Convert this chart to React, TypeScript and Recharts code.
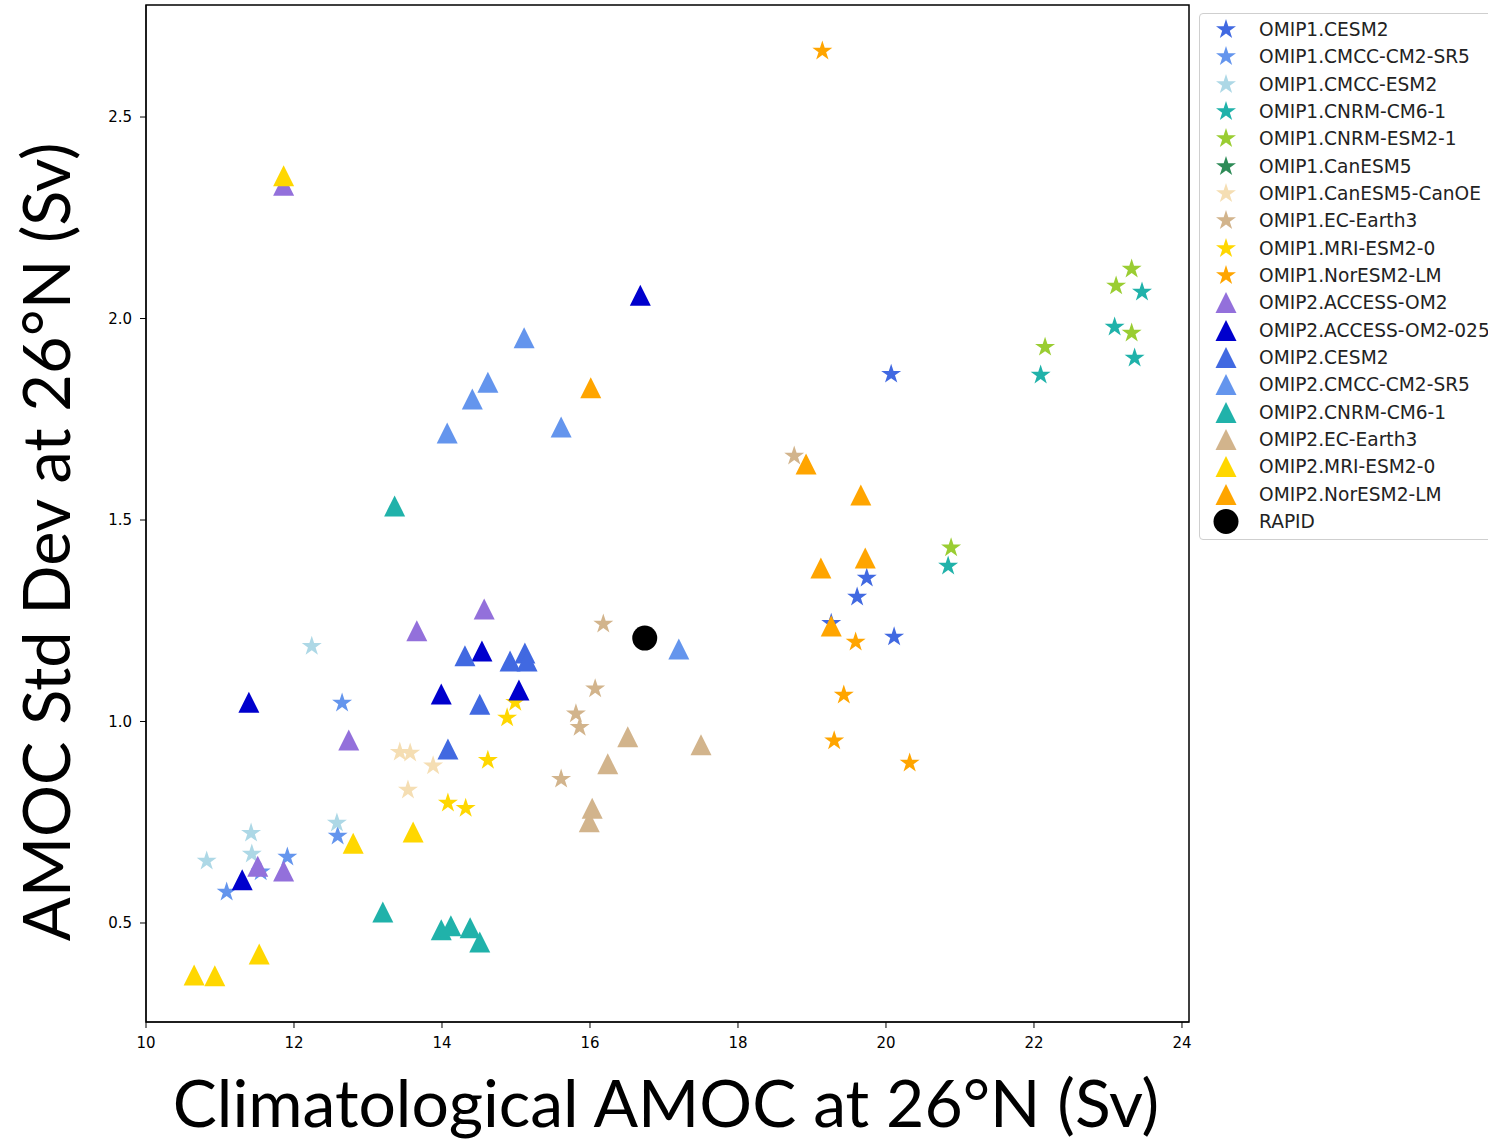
import React from "react";
import { ScatterChart, Scatter, XAxis, YAxis, ReferenceArea } from "recharts";

// axis ticks
const xTicks = [10, 12, 14, 16, 18, 20, 22, 24];
const yTicks = [0.5, 1.0, 1.5, 2.0, 2.5];

// OMIP1 (stars)
const omip1Cesm2 = [
  { x: 20.07, y: 1.862 }, { x: 19.74, y: 1.356 }, { x: 19.61, y: 1.309 },
  { x: 20.11, y: 1.21 }, { x: 19.26, y: 1.244 },
];
const omip1CmccCm2 = [
  { x: 12.65, y: 1.046 }, { x: 12.59, y: 0.716 }, { x: 11.91, y: 0.664 },
  { x: 11.09, y: 0.577 }, { x: 11.55, y: 0.627 },
];
const omip1CmccEsm2 = [
  { x: 12.24, y: 1.187 }, { x: 11.42, y: 0.723 }, { x: 10.82, y: 0.654 },
  { x: 11.43, y: 0.671 }, { x: 12.58, y: 0.748 },
];
const omip1CnrmCm6 = [
  { x: 23.46, y: 2.066 }, { x: 23.09, y: 1.979 }, { x: 23.36, y: 1.902 },
  { x: 22.09, y: 1.86 }, { x: 20.84, y: 1.386 },
];
const omip1CnrmEsm2 = [
  { x: 23.32, y: 2.123 }, { x: 23.11, y: 2.081 }, { x: 23.32, y: 1.964 },
  { x: 22.15, y: 1.929 }, { x: 20.88, y: 1.431 },
];
const omip1CanEsm5: { x: number; y: number }[] = [];
const omip1CanOe = [
  { x: 13.43, y: 0.924 }, { x: 13.57, y: 0.922 }, { x: 13.88, y: 0.89 },
  { x: 13.54, y: 0.83 },
];
const omip1EcEarth = [
  { x: 18.76, y: 1.659 }, { x: 16.18, y: 1.242 }, { x: 16.07, y: 1.081 },
  { x: 15.81, y: 1.019 }, { x: 15.86, y: 0.986 }, { x: 15.61, y: 0.857 },
];
const omip1Mri = [
  { x: 14.99, y: 1.048 }, { x: 14.88, y: 1.009 }, { x: 14.62, y: 0.904 },
  { x: 14.08, y: 0.798 }, { x: 14.32, y: 0.785 },
];
const omip1NorEsm = [
  { x: 19.14, y: 2.664 }, { x: 19.59, y: 1.197 }, { x: 19.43, y: 1.066 },
  { x: 19.3, y: 0.952 }, { x: 20.32, y: 0.897 },
];

// OMIP2 (triangles)
const omip2Access = [
  { x: 11.86, y: 2.331 }, { x: 14.57, y: 1.279 }, { x: 13.66, y: 1.225 },
  { x: 12.74, y: 0.954 }, { x: 11.51, y: 0.641 }, { x: 11.86, y: 0.629 },
];
const omip2Access025 = [
  { x: 16.68, y: 2.058 }, { x: 14.54, y: 1.175 }, { x: 13.99, y: 1.068 },
  { x: 15.04, y: 1.078 }, { x: 11.39, y: 1.048 }, { x: 11.3, y: 0.607 },
];
const omip2Cesm2 = [
  { x: 14.31, y: 1.163 }, { x: 14.92, y: 1.15 }, { x: 15.12, y: 1.17 },
  { x: 15.15, y: 1.15 }, { x: 14.51, y: 1.043 }, { x: 14.08, y: 0.932 },
];
const omip2CmccCm2 = [
  { x: 15.11, y: 1.952 }, { x: 14.62, y: 1.842 }, { x: 14.41, y: 1.8 },
  { x: 14.07, y: 1.716 }, { x: 15.61, y: 1.731 }, { x: 17.2, y: 1.18 },
];
const omip2CnrmCm6 = [
  { x: 13.36, y: 1.535 }, { x: 13.2, y: 0.527 }, { x: 13.99, y: 0.483 },
  { x: 14.12, y: 0.493 }, { x: 14.38, y: 0.488 }, { x: 14.51, y: 0.453 },
];
const omip2EcEarth = [
  { x: 16.51, y: 0.962 }, { x: 17.5, y: 0.942 }, { x: 16.24, y: 0.895 },
  { x: 16.03, y: 0.785 }, { x: 15.99, y: 0.751 },
];
const omip2Mri = [
  { x: 11.86, y: 2.354 }, { x: 13.61, y: 0.726 }, { x: 12.8, y: 0.698 },
  { x: 11.53, y: 0.423 }, { x: 10.65, y: 0.371 }, { x: 10.93, y: 0.369 },
];
const omip2NorEsm = [
  { x: 16.01, y: 1.828 }, { x: 18.92, y: 1.639 }, { x: 19.66, y: 1.562 },
  { x: 19.72, y: 1.406 }, { x: 19.12, y: 1.381 }, { x: 19.26, y: 1.237 },
];

// observations
const rapid = [{ x: 16.74, y: 1.207 }];

type Marker = "star" | "triangle" | "circle";

const series: { name: string; color: string; marker: Marker; data: { x: number; y: number }[] }[] = [
  { name: "OMIP1.CESM2", color: "#4169E1", marker: "star", data: omip1Cesm2 },
  { name: "OMIP1.CMCC-CM2-SR5", color: "#6495ED", marker: "star", data: omip1CmccCm2 },
  { name: "OMIP1.CMCC-ESM2", color: "#ADD8E6", marker: "star", data: omip1CmccEsm2 },
  { name: "OMIP1.CNRM-CM6-1", color: "#20B2AA", marker: "star", data: omip1CnrmCm6 },
  { name: "OMIP1.CNRM-ESM2-1", color: "#9ACD32", marker: "star", data: omip1CnrmEsm2 },
  { name: "OMIP1.CanESM5", color: "#2E8B57", marker: "star", data: omip1CanEsm5 },
  { name: "OMIP1.CanESM5-CanOE", color: "#F5DEB3", marker: "star", data: omip1CanOe },
  { name: "OMIP1.EC-Earth3", color: "#D2B48C", marker: "star", data: omip1EcEarth },
  { name: "OMIP1.MRI-ESM2-0", color: "#FFD700", marker: "star", data: omip1Mri },
  { name: "OMIP1.NorESM2-LM", color: "#FFA500", marker: "star", data: omip1NorEsm },
  { name: "OMIP2.ACCESS-OM2", color: "#9370DB", marker: "triangle", data: omip2Access },
  { name: "OMIP2.ACCESS-OM2-025", color: "#0000CD", marker: "triangle", data: omip2Access025 },
  { name: "OMIP2.CESM2", color: "#4169E1", marker: "triangle", data: omip2Cesm2 },
  { name: "OMIP2.CMCC-CM2-SR5", color: "#6495ED", marker: "triangle", data: omip2CmccCm2 },
  { name: "OMIP2.CNRM-CM6-1", color: "#20B2AA", marker: "triangle", data: omip2CnrmCm6 },
  { name: "OMIP2.EC-Earth3", color: "#D2B48C", marker: "triangle", data: omip2EcEarth },
  { name: "OMIP2.MRI-ESM2-0", color: "#FFD700", marker: "triangle", data: omip2Mri },
  { name: "OMIP2.NorESM2-LM", color: "#FFA500", marker: "triangle", data: omip2NorEsm },
  { name: "RAPID", color: "#000000", marker: "circle", data: rapid },
];

const starPoints = (cx: number, cy: number, R: number) => {
  const r = R * 0.382;
  const pts: string[] = [];
  for (let i = 0; i < 10; i++) {
    const a = -Math.PI / 2 + (i * Math.PI) / 5;
    const rad = i % 2 === 0 ? R : r;
    pts.push(`${cx + rad * Math.cos(a)},${cy + rad * Math.sin(a)}`);
  }
  return pts.join(" ");
};

const MarkerShape = ({ cx, cy, marker, color }: { cx: number; cy: number; marker: Marker; color: string }) => {
  if (marker === "star") return <polygon points={starPoints(cx, cy, 10.5)} fill={color} />;
  if (marker === "triangle") {
    const s = 10.5;
    return <polygon points={`${cx},${cy - s} ${cx - s},${cy + s} ${cx + s},${cy + s}`} fill={color} />;
  }
  return <circle cx={cx} cy={cy} r={12.5} fill={color} />;
};

const FONT = "'DejaVu Sans', sans-serif";
const LABEL_FONT = "Lato, sans-serif";

const ChartLegend = () => (
  <div
    style={{
      position: "absolute",
      left: 1199,
      top: 13,
      width: 310,
      height: 527,
      border: "1px solid #cfcfcf",
      borderRadius: 4,
      background: "#fff",
      boxSizing: "border-box",
      paddingTop: 2,
    }}
  >
    {series.map((s) => (
      <div key={s.name} style={{ height: 27.33, display: "flex", alignItems: "center" }}>
        <svg width={59} height={27} style={{ flex: "none" }}>
          <MarkerShape cx={26} cy={13.5} marker={s.marker} color={s.color} />
        </svg>
        <span style={{ fontFamily: FONT, fontSize: 18.6, color: "#222", whiteSpace: "nowrap" }}>{s.name}</span>
      </div>
    ))}
  </div>
);

export default function App() {
  return (
    <div style={{ position: "absolute", left: 0, top: 0, width: 1488, height: 1139, overflow: "hidden", background: "#fff" }}>
      <ScatterChart width={1488} height={1139} margin={{ top: 5, right: 299, bottom: 77, left: 86 }}>
        <XAxis
          type="number"
          dataKey="x"
          domain={[10, 24.095]}
          ticks={xTicks}
          allowDataOverflow
          height={40}
          tickSize={6}
          tickMargin={9}
          stroke="#000"
          tick={{ fill: "#000", fontSize: 15, fontFamily: FONT }}
          label={() => (
            <text x={666} y={1127} textAnchor="middle" fontFamily={LABEL_FONT} fontSize={66} fill="#000">
              Climatological AMOC at 26°N (Sv)
            </text>
          )}
        />
        <YAxis
          type="number"
          dataKey="y"
          domain={[0.2543, 2.778]}
          ticks={yTicks}
          allowDataOverflow
          width={60}
          tickSize={6}
          tickMargin={8}
          stroke="#000"
          tickFormatter={(v: number) => v.toFixed(1)}
          tick={{ fill: "#000", fontSize: 15, fontFamily: FONT }}
          label={() => (
            <text
              x={70}
              y={542}
              transform="rotate(-90, 70, 542)"
              textAnchor="middle"
              fontFamily={LABEL_FONT}
              fontSize={65}
              fill="#000"
            >
              AMOC Std Dev at 26°N (Sv)
            </text>
          )}
        />
        <ReferenceArea x1={10} x2={24.095} y1={0.2543} y2={2.778} fill="none" stroke="#000" strokeWidth={1.5} ifOverflow="visible" />
        {series.map((s) => (
          <Scatter
            key={s.name}
            name={s.name}
            data={s.data}
            isAnimationActive={false}
            shape={(p: any) => <MarkerShape cx={p.cx} cy={p.cy} marker={s.marker} color={s.color} />}
          />
        ))}
      </ScatterChart>
      <ChartLegend />
    </div>
  );
}
